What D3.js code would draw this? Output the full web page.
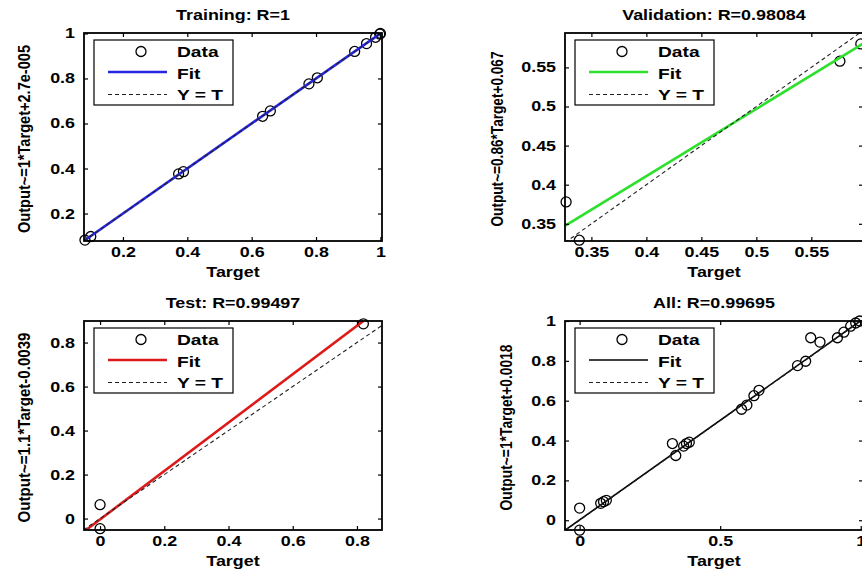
<!DOCTYPE html>
<html>
<head>
<meta charset="utf-8">
<script src="https://cdn.jsdelivr.net/npm/d3@7"></script>
<style>
body { margin: 0; background: #fff; }
text { font-family: Arial, "Liberation Sans", Helvetica, sans-serif; fill: #000; }
</style>
</head>
<body>
<div class="chart"></div>
<script>
// Training
var trainTarget = [0.082, 0.100, 0.373, 0.388, 0.634, 0.658, 0.778, 0.804, 0.920, 0.957, 0.985, 0.998, 1.0];
var trainOutput = [0.082, 0.098, 0.376, 0.386, 0.632, 0.656, 0.776, 0.803, 0.920, 0.955, 0.983, 0.997, 1.0];
var trainFit = [1, 0.000027];
var trainXDomain = [0.079, 1.005];
var trainYDomain = [0.078, 1.002];
var trainXTicks = [0.2, 0.4, 0.6, 0.8, 1];
var trainYTicks = [0.2, 0.4, 0.6, 0.8, 1];

// Validation
var valTarget = [0.327, 0.339, 0.576, 0.595];
var valOutput = [0.378, 0.329, 0.558, 0.580];
var valFit = [0.86, 0.067];
var valXDomain = [0.326, 0.597];
var valYDomain = [0.328, 0.594];
var valXTicks = [0.35, 0.4, 0.45, 0.5, 0.55];
var valYTicks = [0.35, 0.4, 0.45, 0.5, 0.55];

// Test
var testTarget = [0, 0, 0.82];
var testOutput = [0.063, -0.046, 0.885];
var testFit = [1.1, -0.0039];
var testXDomain = [-0.05, 0.878];
var testYDomain = [-0.052, 0.898];
var testXTicks = [0, 0.2, 0.4, 0.6, 0.8];
var testYTicks = [0, 0.2, 0.4, 0.6, 0.8];

// All
var allTarget = [0, 0, 0.075, 0.085, 0.095, 0.33, 0.342, 0.37, 0.38, 0.39, 0.576, 0.595, 0.62, 0.638, 0.775, 0.804, 0.822, 0.855, 0.917, 0.94, 0.964, 0.982, 0.996];
var allOutput = [0.061, -0.05, 0.085, 0.093, 0.1, 0.385, 0.325, 0.372, 0.385, 0.392, 0.557, 0.578, 0.625, 0.652, 0.776, 0.798, 0.916, 0.894, 0.916, 0.944, 0.974, 0.99, 1.0];
var allFit = [1, 0.0018];
var allXDomain = [-0.052, 1.008];
var allYDomain = [-0.049, 1.0];
var allXTicks = [0, 0.5, 1];
var allYTicks = [0, 0.2, 0.4, 0.6, 0.8, 1];

var legendLabels = ["Data", "Fit", "Y = T"];

var svgWidth = 862, svgHeight = 573;
var sx = 1.28; // the picture is stretched sideways

var svg = d3.select(".chart").append("svg")
  .attr("width", svgWidth)
  .attr("height", svgHeight);

var panels = [
  { title: "Training: R=1", ylab: "Output~=1*Target+2.7e-005", t: trainTarget, o: trainOutput, fit: trainFit,
    xd: trainXDomain, yd: trainYDomain, xt: trainXTicks, yt: trainYTicks, color: "#2626e0", lw: 2.6,
    box: [84, 33, 382, 241], ylx: 59, ylen: 188 },
  { title: "Validation: R=0.98084", ylab: "Output~=0.86*Target+0.067", t: valTarget, o: valOutput, fit: valFit,
    xd: valXDomain, yd: valYDomain, xt: valXTicks, yt: valYTicks, color: "#2ee02e", lw: 2.6,
    box: [565, 33, 863, 241], ylx: 67, ylen: 175 },
  { title: "Test: R=0.99497", ylab: "Output~=1.1*Target-0.0039", t: testTarget, o: testOutput, fit: testFit,
    xd: testXDomain, yd: testYDomain, xt: testXTicks, yt: testYTicks, color: "#dd1a1a", lw: 2.6,
    box: [84, 321, 382, 530], ylx: 59, ylen: 190 },
  { title: "All: R=0.99695", ylab: "Output~=1*Target+0.0018", t: allTarget, o: allOutput, fit: allFit,
    xd: allXDomain, yd: allYDomain, xt: allXTicks, yt: allYTicks, color: "#000", lw: 1.6,
    box: [565, 321, 863, 530], ylx: 58, ylen: 166 }
];

var fmt = d3.format("~g");

panels.forEach(function(p, i) {
  var b = p.box;
  var g = svg.append("g");

  var x = d3.scaleLinear().domain(p.xd).range([b[0], b[2]]);
  var y = d3.scaleLinear().domain(p.yd).range([b[3], b[1]]);

  svg.append("clipPath").attr("id", "clip" + i)
    .append("rect")
    .attr("x", b[0]).attr("y", b[1])
    .attr("width", b[2] - b[0]).attr("height", b[3] - b[1]);

  // data circles
  g.selectAll(".pt")
    .data(d3.range(p.t.length))
    .enter()
    .append("circle")
    .attr("class", "pt")
    .attr("cx", k => x(p.t[k]))
    .attr("cy", k => y(p.o[k]))
    .attr("r", 5)
    .attr("fill", "none")
    .attr("stroke", "#000")
    .attr("stroke-width", 1.3);

  var line = d3.line().x(d => x(d[0])).y(d => y(d[1]));

  // fit
  g.append("path")
    .attr("clip-path", "url(#clip" + i + ")")
    .attr("d", line(p.xd.map(v => [v, p.fit[0] * v + p.fit[1]])))
    .attr("fill", "none")
    .attr("stroke", p.color)
    .attr("stroke-width", p.lw);

  // Y = T
  var lo = Math.min(p.xd[0], p.yd[0]), hi = Math.max(p.xd[1], p.yd[1]);
  g.append("path")
    .attr("clip-path", "url(#clip" + i + ")")
    .attr("d", line([[lo, lo], [hi, hi]]))
    .attr("fill", "none")
    .attr("stroke", "#222")
    .attr("stroke-width", 1.1)
    .attr("stroke-dasharray", "4,3");

  // axes, ticks inside on all four sides
  var xAxis = g.append("g")
    .attr("transform", `translate(0, ${b[3]})`)
    .call(d3.axisBottom(x).tickValues(p.xt).tickFormat(fmt).tickSizeInner(-4).tickSizeOuter(0).tickPadding(6));
  var yAxis = g.append("g")
    .attr("transform", `translate(${b[0]}, 0)`)
    .call(d3.axisLeft(y).tickValues(p.yt).tickFormat(fmt).tickSizeInner(-4).tickSizeOuter(0).tickPadding(7));
  var topAxis = g.append("g")
    .attr("transform", `translate(0, ${b[1]})`)
    .call(d3.axisTop(x).tickValues(p.xt).tickFormat("").tickSizeInner(-4).tickSizeOuter(0));
  var rightAxis = g.append("g")
    .attr("transform", `translate(${b[2]}, 0)`)
    .call(d3.axisRight(y).tickValues(p.yt).tickFormat("").tickSizeInner(-4).tickSizeOuter(0));

  [xAxis, yAxis, topAxis, rightAxis].forEach(function(a) {
    a.select(".domain").remove();
    a.selectAll("line").attr("stroke", "#000").attr("stroke-width", 1.2);
  });
  [xAxis, yAxis].forEach(function(a) {
    a.selectAll("text")
      .style("font-size", "14px")
      .style("font-weight", "bold")
      .attr("fill", "#0a0a1e")
      .attr("transform", `scale(${sx},1)`);
  });

  g.append("rect")
    .attr("x", b[0]).attr("y", b[1])
    .attr("width", b[2] - b[0]).attr("height", b[3] - b[1])
    .attr("fill", "none")
    .attr("stroke", "#000")
    .attr("stroke-width", 1.8);

  var cx = (b[0] + b[2]) / 2, cy = (b[1] + b[3]) / 2;

  // title
  g.append("text")
    .attr("transform", `translate(${cx}, ${b[1] - 13}) scale(${sx},1)`)
    .attr("text-anchor", "middle")
    .style("font-size", "14px")
    .style("font-weight", "bold")
    .text(p.title);

  // x label
  g.append("text")
    .attr("transform", `translate(${cx}, ${b[3] + 36}) scale(${sx},1)`)
    .attr("text-anchor", "middle")
    .style("font-size", "14px")
    .style("font-weight", "bold")
    .text("Target");

  // y label
  g.append("text")
    .attr("transform", `translate(${b[0] - p.ylx + 5}, ${cy + 2}) scale(${sx},1) rotate(-90)`)
    .attr("text-anchor", "middle")
    .attr("textLength", p.ylen)
    .attr("lengthAdjust", "spacingAndGlyphs")
    .style("font-size", "13px")
    .style("font-weight", "bold")
    .text(p.ylab);

  // legend
  var lx = b[0] + 10, ly = b[1] + 7;
  var leg = g.append("g").attr("transform", `translate(${lx}, ${ly})`);
  leg.append("rect")
    .attr("width", 139).attr("height", 65)
    .attr("fill", "#fff")
    .attr("stroke", "#000")
    .attr("stroke-width", 1.2);
  leg.append("circle")
    .attr("cx", 47).attr("cy", 11.5).attr("r", 5)
    .attr("fill", "none").attr("stroke", "#000").attr("stroke-width", 1.3);
  leg.append("line")
    .attr("x1", 14).attr("x2", 73).attr("y1", 32).attr("y2", 32)
    .attr("stroke", p.color).attr("stroke-width", p.lw);
  leg.append("line")
    .attr("x1", 14).attr("x2", 73).attr("y1", 54.5).attr("y2", 54.5)
    .attr("stroke", "#222").attr("stroke-width", 1.1).attr("stroke-dasharray", "4,3");
  leg.selectAll(".lt")
    .data(legendLabels)
    .enter()
    .append("text")
    .attr("class", "lt")
    .attr("transform", (d, k) => `translate(83, ${[17, 38.5, 60][k]}) scale(${sx},1)`)
    .style("font-size", "15px")
    .style("font-weight", "bold")
    .text(d => d);
});
</script>
</body>
</html>
